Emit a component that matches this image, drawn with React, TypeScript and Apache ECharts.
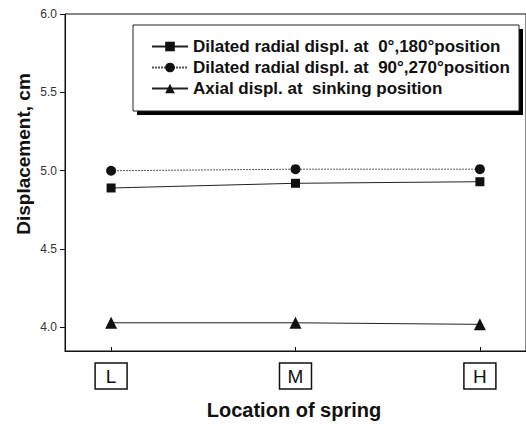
import React, { useEffect, useRef } from "react";
import * as echarts from "echarts";

const categories = ["L", "M", "H"];
const seriesNames = [
  "Dilated radial displ. at  0°,180°position",
  "Dilated radial displ. at  90°,270°position",
  "Axial displ. at  sinking position",
];
const radial0_180 = [4.89, 4.92, 4.93];
const radial90_270 = [5.0, 5.01, 5.01];
const axialSinking = [4.03, 4.03, 4.02];
const yTicks = [4.0, 4.5, 5.0, 5.5, 6.0];

const toPairs = (vals: number[]) => vals.map((v, i) => [i, v]);

export default function App() {
  const ref = useRef<HTMLDivElement>(null);
  useEffect(() => {
    if (!ref.current) return;
    const chart = echarts.init(ref.current, null, { renderer: "svg" });
    const font = "Liberation Sans, Arial, sans-serif";
    chart.setOption({
      animation: false,
      backgroundColor: "#ffffff",
      grid: {
        left: 65,
        top: 14,
        width: 465,
        bottom: 78,
        show: true,
        borderColor: "#111",
        borderWidth: 1,
      },
      xAxis: {
        type: "value",
        min: -0.25,
        max: 2.25,
        splitLine: { show: false },
        axisLine: { onZero: false, lineStyle: { color: "#111", width: 1 } },
        axisTick: { inside: true, length: 4, customValues: [0, 1, 2], lineStyle: { color: "#111" } },
        axisLabel: {
          customValues: [0, 1, 2],
          margin: 14,
          formatter: (v: number) => `{b|${categories[Math.round(v)]}}`,
          rich: {
            b: {
              fontFamily: font,
              fontSize: 19,
              color: "#111",
              borderColor: "#111",
              borderWidth: 1.5,
              width: 18,
              align: "center",
              padding: [4, 7, 3, 7],
              lineHeight: 22,
            },
          },
        },
      },
      yAxis: {
        type: "value",
        min: 3.85,
        max: 6.0,
        splitLine: { show: false },
        axisLine: { show: true, onZero: false, lineStyle: { color: "#111", width: 1 } },
        axisTick: { show: true, length: 5, customValues: yTicks, lineStyle: { color: "#111" } },
        axisLabel: {
          customValues: yTicks,
          formatter: (v: number) => v.toFixed(1),
          fontFamily: font,
          fontSize: 12,
          color: "#333",
          margin: 8,
        },
      },
      legend: {
        orient: "vertical",
        left: 146,
        top: 33,
        itemWidth: 36,
        itemHeight: 12,
        itemGap: 4,
        itemTextGap: 8,
        data: seriesNames,
        textStyle: { fontFamily: font, fontSize: 17, fontWeight: "bold", color: "#111" },
        inactiveColor: "#111",
        selectedMode: false,
      },
      series: [
        {
          name: seriesNames[0],
          type: "line",
          data: toPairs(radial0_180),
          symbol: "rect",
          symbolSize: 9,
          itemStyle: { color: "#111" },
          lineStyle: { color: "#222", width: 1 },
        },
        {
          name: seriesNames[1],
          type: "line",
          data: toPairs(radial90_270),
          symbol: "circle",
          symbolSize: 10,
          itemStyle: { color: "#111" },
          lineStyle: { color: "#555", width: 1, type: [2, 1] },
        },
        {
          name: seriesNames[2],
          type: "line",
          data: toPairs(axialSinking),
          symbol: "triangle",
          symbolSize: 12,
          itemStyle: { color: "#111" },
          lineStyle: { color: "#222", width: 1 },
        },
      ],
      graphic: [
        {
          type: "rect",
          z: -1,
          shape: { x: 137, y: 29, width: 386, height: 86 },
          style: { fill: "#000" },
        },
        {
          type: "rect",
          z: 0,
          shape: { x: 133, y: 25, width: 386, height: 86 },
          style: { fill: "#fff", stroke: "#222", lineWidth: 1 },
        },
        {
          type: "text",
          x: 23,
          y: 154,
          rotation: Math.PI / 2,
          style: {
            text: "Displacement, cm",
            fontFamily: font,
            fontSize: 19,
            fontWeight: "bold",
            fill: "#111",
            align: "center",
            verticalAlign: "middle",
          },
        },
        {
          type: "text",
          x: 294,
          y: 410,
          style: {
            text: "Location of spring",
            fontFamily: font,
            fontSize: 20,
            fontWeight: "bold",
            fill: "#111",
            align: "center",
            verticalAlign: "middle",
          },
        },
      ],
    });
    return () => chart.dispose();
  }, []);
  return <div ref={ref} style={{ width: 526, height: 429, position: "absolute", left: 0, top: 0 }} />;
}
